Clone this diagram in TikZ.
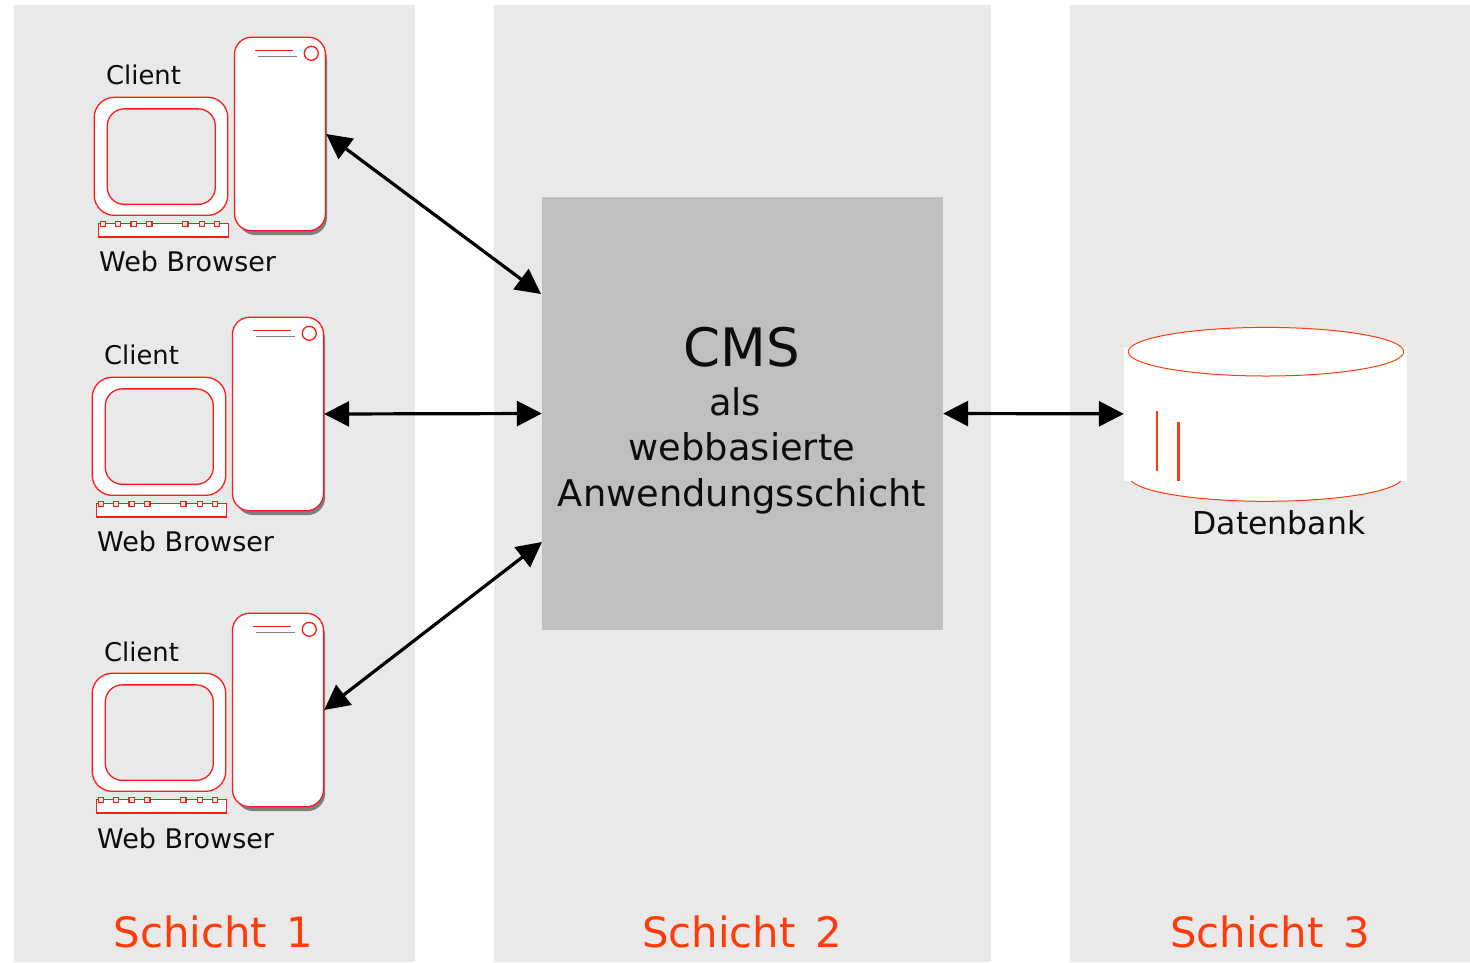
\documentclass[tikz,border=0pt]{standalone}
\usepackage{fontspec}
\setmainfont{DejaVu Sans}
\usetikzlibrary{arrows.meta}
\definecolor{panelgray}{HTML}{E9E9E9}
\definecolor{cmsgray}{HTML}{BFBFBF}
\definecolor{shadowgray}{HTML}{7F7F7F}
\definecolor{hwred}{HTML}{FF1A1A}
\definecolor{dborange}{HTML}{FF3B0A}
\tikzset{
  panel/.style={draw=none,fill=panelgray},
  tower/.style={draw=hwred,fill=white,line width=1.3pt,rounded corners=17pt,minimum width=91pt,minimum height=193.5pt,inner sep=0pt},
  towershadow/.style={fill=shadowgray,rounded corners=17pt},
  monitor/.style={draw=hwred,fill=white,line width=1.3pt,rounded corners=20pt,minimum width=133.5pt,minimum height=118pt,inner sep=0pt},
  screen/.style={draw=hwred,fill=panelgray,line width=1.3pt,rounded corners=17pt,minimum width=108pt,minimum height=95.5pt,inner sep=0pt},
  kbd/.style={draw=hwred,fill=white,line width=1.3pt,minimum width=130pt,minimum height=13.7pt,inner sep=0pt},
  kkey/.style={draw=hwred,fill=panelgray,line width=1.3pt,minimum size=5.5pt,inner sep=0pt},
  label/.style={inner sep=0pt,text=black!95},
  smalltxt/.style={label,font=\fontsize{27}{30}\selectfont},
  clienttxt/.style={label,font=\fontsize{25.8}{30}\selectfont},
  midtxt/.style={label,font=\fontsize{36.8}{45}\selectfont},
  bigtxt/.style={label,font=\fontsize{53}{60}\selectfont},
  layertxt/.style={inner sep=0pt,text=dborange,font=\fontsize{41.8}{52}\selectfont},
  biarrow/.style={line width=3.2pt,black,{Triangle[length=25pt,width=25pt]}-{Triangle[length=25pt,width=25pt]}},
}
\newcommand{\clientbox}[5]{%
  \begin{scope}[shift={(#2,#3)}]
    \fill[towershadow] (238,42) rectangle (327,235);
    \node[tower] (srv#1) at (280,134) {};
    \draw[hwred,line width=1.3pt] (255,50.3) -- (293.3,50.3);
    \draw[shadowgray,line width=1pt] (257.7,56.3) -- (296.7,56.3);
    \node[circle,draw=hwred,fill=white,line width=1.3pt,minimum size=14pt,inner sep=0pt] (led#1) at (311.3,53.3) {};
    \node[monitor] (mon#1) at (161,156.3) {};
    \node[screen] (scr#1) at (161.3,156.6) {};
    \node[kbd] (kb#1) at (163.3,230.2) {};
    \foreach \kx [count=\ki] in {103,118,133.7,149.3,185.3,202,217}
      \node[kkey] (k#1\ki) at (\kx,224) {};
    \node[clienttxt,anchor=west] (cl#1) at (106,#4) {Client};
    \node[smalltxt,anchor=west] (wb#1) at (99,#5) {Web Browser};
  \end{scope}}
\begin{document}
\begin{tikzpicture}[x=1pt,y=-1pt]
\useasboundingbox (0,0) rectangle (1470,962);
\fill[white] (0,0) rectangle (1470,962);
\fill[panel] (14,5) rectangle (415,962);
\fill[panel] (494,5) rectangle (991,962);
\fill[panel] (1070,5) rectangle (1470,962);

\clientbox{1}{0}{0}{75}{261.3}
\clientbox{2}{-2}{280}{75}{261.3}
\clientbox{3}{-2}{576}{76}{262.3}

\node[fill=cmsgray,minimum width=401pt,minimum height=433pt,inner sep=0pt] (cms) at (742.5,413.5) {};
\node[bigtxt] (cmsa) at (742,347) {CMS};
\node[midtxt] (cmsb) at (735,402) {als};
\node[midtxt] (cmsc) at (742,447) {webbasierte};
\node[midtxt] (cmsd) at (742,496) {Anwendungsschicht};

% database
\draw[dborange,line width=1pt,fill=white] (1266,477) ellipse [x radius=136.5pt,y radius=24.3pt];
\node[fill=white,minimum width=282.7pt,minimum height=133.7pt,inner sep=0pt] (db) at (1265.35,413.85) {};
\draw[dborange,line width=1pt,fill=white] (1266,351.7) ellipse [x radius=137.7pt,y radius=24.3pt];
\draw[dborange,line width=2.3pt] (1157.3,411) -- (1157.3,471);
\draw[dborange,line width=2.3pt] (1178.5,422) -- (1178.5,481);
\node[label,font=\fontsize{31.5}{38}\selectfont] (dbl) at (1279,523) {Datenbank};

\coordinate (cmsu) at (541,294);
\coordinate (cmsl) at (542,542);
\draw[biarrow] (srv1.east) -- (cmsu);
\draw[biarrow] (srv2.east) -- (cms.west);
\draw[biarrow] (srv3.east) -- (cmsl);
\draw[biarrow] (cms.east) -- (db.west);

\node[layertxt] (s1) at (213.5,932) {Schicht\hspace{6pt} 1};
\node[layertxt] (s2) at (742,932) {Schicht\hspace{6pt} 2};
\node[layertxt] (s3) at (1270,932) {Schicht\hspace{6pt} 3};
\end{tikzpicture}
\end{document}
